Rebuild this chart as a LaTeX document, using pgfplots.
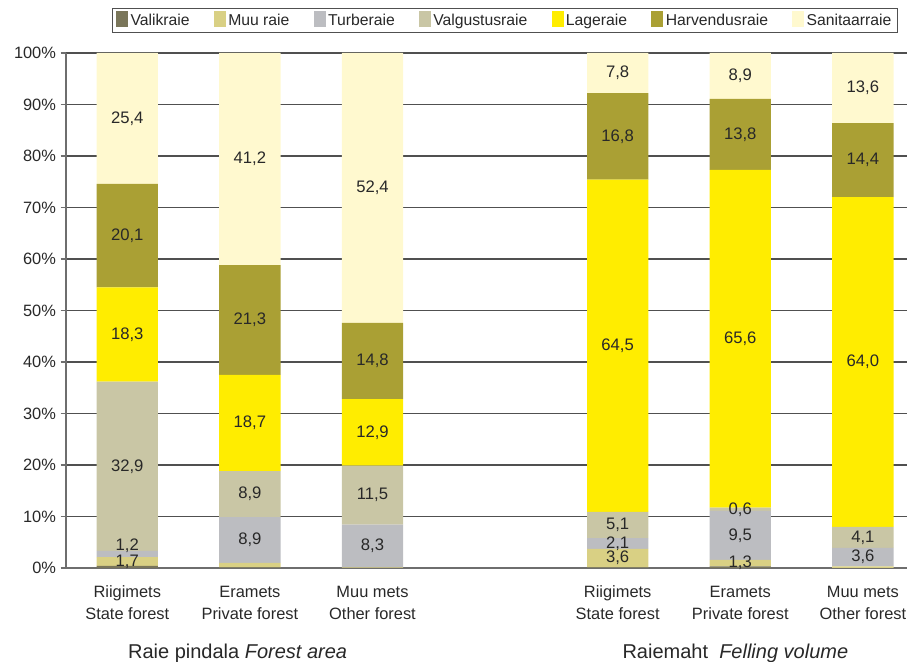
\documentclass[border=0pt]{standalone}
\usepackage{fontspec}
\setmainfont{Liberation Sans}
\usepackage{pgfplots}
\pgfplotsset{compat=1.18}
\usetikzlibrary{calc}

\definecolor{cValik}{RGB}{122,118,90}
\definecolor{cMuu}{RGB}{217,208,132}
\definecolor{cTurb}{RGB}{188,189,193}
\definecolor{cValg}{RGB}{201,198,165}
\definecolor{cLage}{RGB}{255,237,0}
\definecolor{cHarv}{RGB}{170,160,52}
\definecolor{cSan}{RGB}{255,249,207}
\definecolor{cTxt}{RGB}{40,40,40}
\definecolor{cGrid}{RGB}{80,80,80}
\definecolor{cAxis}{RGB}{110,110,110}

\begin{document}
\begin{tikzpicture}
\begin{axis}[
    name=ax,
    scale only axis,
    width=630.75pt, height=386.25pt,
    ybar stacked, bar width=0.5,
    xmin=-0.5, xmax=6.36,
    ymin=0, ymax=100,
    axis lines*=left,
    axis line style={draw=cAxis, line width=1.1pt},
    ytick={0,10,...,100},
    yticklabel={\pgfmathprintnumber{\tick}\%},
    /pgf/number format/assume math mode=true,
    tick align=outside, major tick length=4pt,
    ytick style={draw=cAxis, line width=0.9pt},
    ymajorgrids, grid style={cGrid, line width=0.8pt},
    xtick={0,1,2,4,5,6}, xtick style={draw=none},
    xticklabels={{Riigimets\\State forest},{Eramets\\Private forest},{Muu mets\\Other forest},
                 {Riigimets\\State forest},{Eramets\\Private forest},{Muu mets\\Other forest}},
    xticklabel style={align=center, yshift=-6pt},
    ticklabel style={font=\fontsize{12.3}{16.5}\selectfont, text=cTxt},
    point meta=explicit symbolic,
    nodes near coords,
    every node near coord/.append style={anchor=center, inner sep=1pt,
        font=\fontsize{12.5}{14}\selectfont, text=cTxt},
    legend columns=-1,
    legend style={at={(0.522,1.087)}, anchor=north, draw=cGrid, line width=0.8pt,
        font=\fontsize{11.8}{14}\selectfont, text=cTxt,
        nodes={inner sep=1.7pt},
        /tikz/every even column/.append style={column sep=16.5pt}},
    legend image code/.code={\fill[draw=none] (0pt,-5pt) rectangle (9pt,7pt);},
    clip=false,
]
\addplot+[fill=cValik, draw=none] coordinates {(0,0.4)[{}] (1,0.1)[{}] (2,0)[{}] (4,0.1)[{}] (5,0.3)[{}] (6,0)[{}]};
\addplot+[fill=cMuu, draw=none] coordinates {(0,1.7)[1,7] (1,0.9)[{}] (2,0.1)[{}] (4,3.6)[3,6] (5,1.3)[1,3] (6,0.3)[{}]};
\addplot+[fill=cTurb, draw=none] coordinates {(0,1.2)[\raise14pt\hbox{1,2}] (1,8.9)[8,9] (2,8.3)[8,3] (4,2.1)[2,1] (5,9.5)[9,5] (6,3.6)[3,6]};
\addplot+[fill=cValg, draw=none] coordinates {(0,32.9)[32,9] (1,8.9)[8,9] (2,11.5)[11,5] (4,5.1)[5,1] (5,0.6)[0,6] (6,4.1)[4,1]};
\addplot+[fill=cLage, draw=none] coordinates {(0,18.3)[18,3] (1,18.7)[18,7] (2,12.9)[12,9] (4,64.5)[64,5] (5,65.6)[65,6] (6,64.0)[64,0]};
\addplot+[fill=cHarv, draw=none] coordinates {(0,20.1)[20,1] (1,21.3)[21,3] (2,14.8)[14,8] (4,16.8)[16,8] (5,13.8)[13,8] (6,14.4)[14,4]};
\addplot+[fill=cSan, draw=none] coordinates {(0,25.4)[25,4] (1,41.2)[41,2] (2,52.4)[52,4] (4,7.8)[7,8] (5,8.9)[8,9] (6,13.6)[13,6]};
\legend{Valikraie,Muu raie,Turberaie,Valgustusraie,Lageraie,Harvendusraie,Sanitaarraie}
\node[anchor=base, text=cTxt, font=\fontsize{15}{17}\selectfont] at ([yshift=-68.25pt]axis cs:0.9,0) {Raie pindala \textit{Forest area}};
\node[anchor=base, text=cTxt, font=\fontsize{15}{17}\selectfont] at ([yshift=-68.25pt]axis cs:4.96,0) {Raiemaht\ \ \textit{Felling volume}};
\end{axis}
\pgfresetboundingbox
\path[use as bounding box] ($(ax.south west)+(-49.5pt,-70.5pt)$) rectangle ($(ax.north east)+(0pt,39.75pt)$);
\end{tikzpicture}
\end{document}
